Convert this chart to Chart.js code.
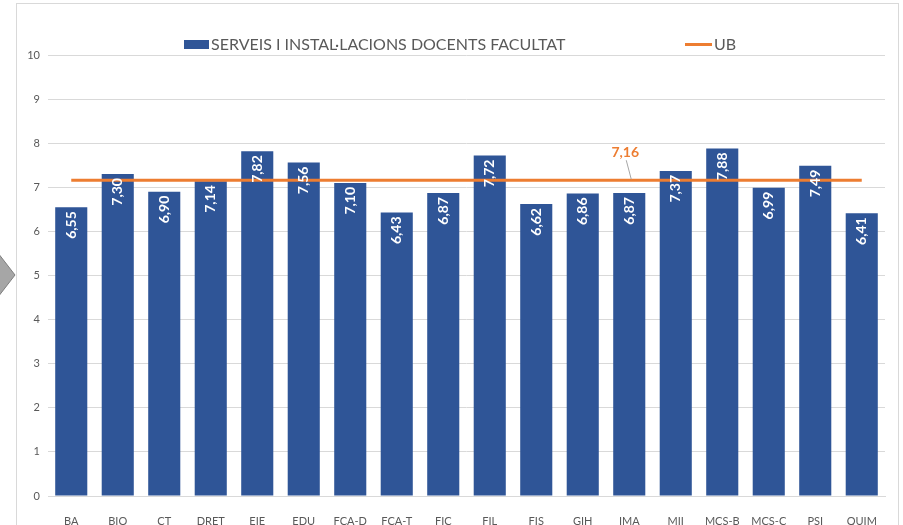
<!DOCTYPE html>
<html>
<head>
<meta charset="utf-8">
<script src="https://cdn.jsdelivr.net/npm/chart.js"></script>
<style>
  html, body { margin: 0; padding: 0; background: #fff; }
  #chart { display: block; }
</style>
</head>
<body>
<canvas id="chart" width="903" height="525"></canvas>
<script>
var labels = ["BA", "BIO", "CT", "DRET", "EIE", "EDU", "FCA-D", "FCA-T", "FIC",
              "FIL", "FIS", "GIH", "IMA", "MII", "MCS-B", "MCS-C", "PSI", "QUIM"];
var facultat = [6.55, 7.30, 6.90, 7.14, 7.82, 7.56, 7.10, 6.43, 6.87,
                7.72, 6.62, 6.86, 6.87, 7.37, 7.88, 6.99, 7.49, 6.41];
var ub = [7.16, 7.16, 7.16, 7.16, 7.16, 7.16, 7.16, 7.16, 7.16,
          7.16, 7.16, 7.16, 7.16, 7.16, 7.16, 7.16, 7.16, 7.16];
var ubLabelIndex = 12;
var yTicks = [0, 1, 2, 3, 4, 5, 6, 7, 8, 9, 10];

var FONT = "Lato, 'Noto Sans', sans-serif";
var BLUE = "#2f5597";
var ORANGE = "#ed7d31";
var GREY_TXT = "#595959";

function fmt(v) {
  return v.toFixed(2).replace(".", ",");
}

// frame, arrow shape and legend
var decoPlugin = {
  id: "deco",
  beforeDraw: function(chart) {
    var ctx = chart.ctx;
    ctx.save();
    ctx.strokeStyle = "#d9d9d9";
    ctx.lineWidth = 1;
    ctx.strokeRect(16.5, 3.5, 882, 540);

    ctx.beginPath();
    ctx.moveTo(-2, 253);
    ctx.lineTo(15, 275);
    ctx.lineTo(-2, 297);
    ctx.closePath();
    ctx.fillStyle = "#a6a6a6";
    ctx.fill();
    ctx.strokeStyle = "#7f7f7f";
    ctx.stroke();

    // legend
    ctx.fillStyle = BLUE;
    ctx.fillRect(184, 40, 25, 9);
    ctx.fillStyle = GREY_TXT;
    ctx.font = "16px " + FONT;
    ctx.textBaseline = "middle";
    ctx.textAlign = "left";
    ctx.fillText("SERVEIS I INSTAL\u00B7LACIONS DOCENTS FACULTAT", 211, 45);
    ctx.strokeStyle = ORANGE;
    ctx.lineWidth = 3;
    ctx.beginPath();
    ctx.moveTo(685, 44.5);
    ctx.lineTo(712, 44.5);
    ctx.stroke();
    ctx.fillText("UB", 714, 45);
    ctx.restore();
  }
};

// bar value labels and UB label
var labelPlugin = {
  id: "valueLabels",
  afterDatasetsDraw: function(chart) {
    var ctx = chart.ctx;
    var bars = chart.getDatasetMeta(0).data;
    ctx.save();
    ctx.fillStyle = "#ffffff";
    ctx.font = "bold 14px " + FONT;
    ctx.textBaseline = "middle";
    ctx.textAlign = "right";
    bars.forEach(function(bar, i) {
      ctx.save();
      ctx.translate(bar.x, bar.y + 4);
      ctx.rotate(-Math.PI / 2);
      ctx.fillText(fmt(facultat[i]), 0, 0);
      ctx.restore();
    });

    var pt = chart.getDatasetMeta(1).data[ubLabelIndex];
    ctx.strokeStyle = "#a6a6a6";
    ctx.lineWidth = 1;
    ctx.beginPath();
    ctx.moveTo(pt.x - 3, pt.y - 20);
    ctx.lineTo(pt.x + 2, pt.y - 1);
    ctx.stroke();
    ctx.fillStyle = ORANGE;
    ctx.font = "bold 14px " + FONT;
    ctx.textAlign = "center";
    ctx.fillText(fmt(ub[ubLabelIndex]), pt.x - 4, pt.y - 28);
    ctx.restore();
  }
};

window.onload = function() {
  var ctx = document.getElementById("chart").getContext("2d");
  window.theChart = new Chart(ctx, {
    type: "bar",
    data: {
      labels: labels,
      datasets: [{
        label: "SERVEIS I INSTAL\u00B7LACIONS DOCENTS FACULTAT",
        data: facultat,
        backgroundColor: BLUE,
        barPercentage: 0.69,
        categoryPercentage: 1,
        order: 1
      }, {
        type: "line",
        label: "UB",
        data: ub,
        borderColor: ORANGE,
        borderWidth: 3,
        pointRadius: 0,
        fill: false,
        order: 0
      }]
    },
    options: {
      responsive: false,
      animation: false,
      layout: { padding: { top: 55, right: 18, left: 0, bottom: 0 } },
      plugins: {
        legend: { display: false },
        tooltip: { enabled: false }
      },
      scales: {
        x: {
          grid: { display: false },
          border: { color: "#d9d9d9" },
          ticks: { color: GREY_TXT, font: { family: FONT, size: 11 }, padding: 11, maxRotation: 0 },
          afterFit: function(scale) { scale.height = 29; }
        },
        y: {
          min: 0,
          max: 10,
          afterBuildTicks: function(scale) {
            scale.ticks = yTicks.map(function(v) { return { value: v }; });
          },
          grid: { color: "#d9d9d9", drawTicks: false },
          border: { display: false },
          ticks: { color: GREY_TXT, font: { family: FONT, size: 11 }, padding: 8 },
          afterFit: function(scale) { scale.width = 48; }
        }
      }
    },
    plugins: [decoPlugin, labelPlugin]
  });
};
</script>
</body>
</html>
